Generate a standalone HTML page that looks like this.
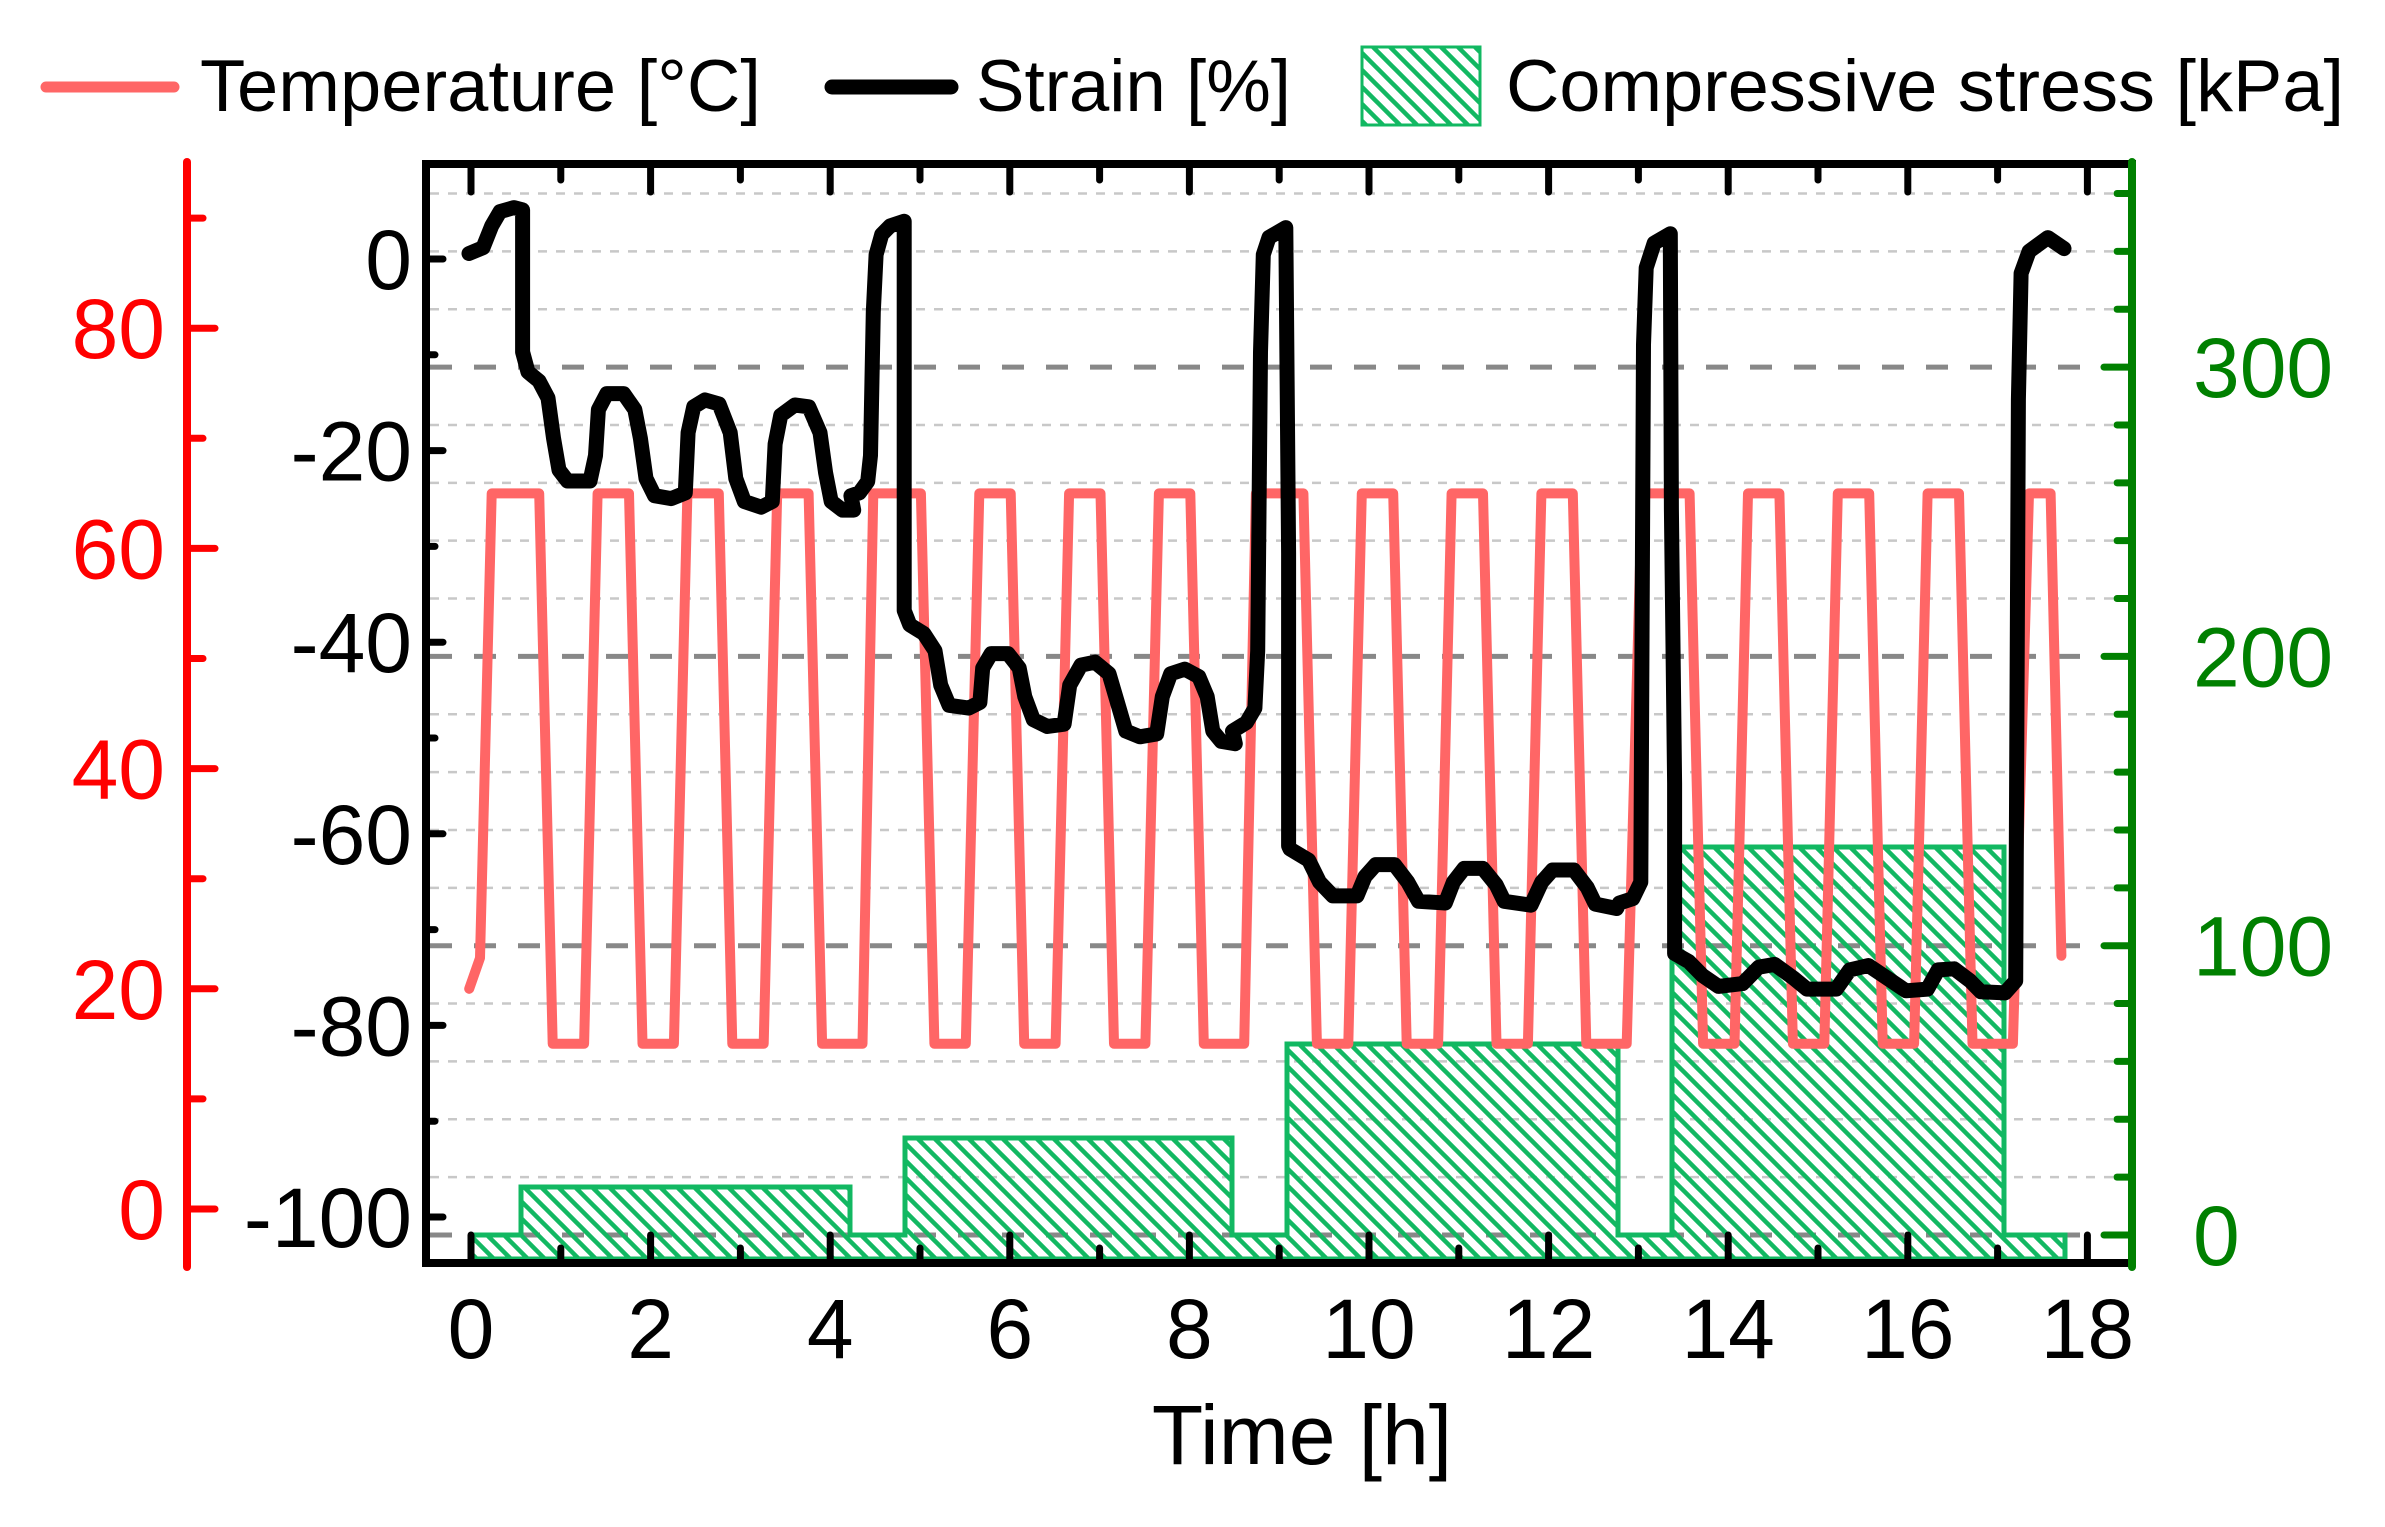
<!DOCTYPE html>
<html><head><meta charset="utf-8"><style>
html,body{margin:0;padding:0;background:#fff;}
svg{display:block;font-family:"Liberation Sans",Arial,sans-serif;}
</style></head><body>
<svg id="s" width="2385" height="1527" viewBox="0 0 2385 1527" xmlns="http://www.w3.org/2000/svg">
<defs>
<pattern id="h" patternUnits="userSpaceOnUse" width="17" height="17">
<path d="M-4,-4 L21,21 M-4,13 L4,21 M13,-4 L21,4" stroke="#12b862" stroke-width="4.5"/>
</pattern>
</defs>
<g id="grid"></g>
<path d="M471,1259 L471,1235 L521,1235 L521,1187 L850,1187 L850,1235 L905,1235 L905,1138 L1232,1138 L1232,1235 L1287,1235 L1287,1044 L1618,1044 L1618,1235 L1672,1235 L1672,847 L2004,847 L2004,1235 L2065,1235 L2065,1259 Z" fill="url(#h)" stroke="#12b862" stroke-width="5"/>
<path id="temp" fill="none" stroke="#ff6666" stroke-width="10" stroke-linejoin="round" stroke-linecap="round"/>
<path fill="none" stroke="#000" stroke-width="15" stroke-linejoin="round" stroke-linecap="round" d="M469,253.5 L483,247.7 L491.7,225.9 L500,211.6 L514,207.6 L522.6,209.9 L522.6,352 L528,372 L539,381 L548,398 L553.5,438 L559,470 L567.5,481 L590,481 L595.5,455.5 L598.4,409.6 L606.8,393.6 L623.6,393.6 L634.8,409.6 L640.4,438.3 L646,478.5 L654.5,495.7 L671.3,498.6 L685.3,492.9 L688.1,432.6 L693.7,406.8 L705,399.9 L719,403.9 L730.2,432.6 L735.8,478.5 L744.3,501.5 L761.1,507.2 L772.3,501.5 L775.1,444.1 L780.7,415.4 L794.8,405 L808.8,406.8 L820,432.6 L825.6,472.8 L831.2,501.5 L842.5,510.1 L853.7,510.1 L850.9,495.7 L859.3,492.9 L867.7,481.4 L870.5,455.5 L873.3,312 L876.1,254.6 L881.7,234.5 L890.2,225.9 L904.2,221.3 L904.2,610.5 L909.8,624.9 L923.8,633.5 L935,650.7 L940.7,685.2 L949.1,705.3 L968.7,708.1 L979.9,702.4 L982.7,668 L991.2,653.6 L1008,653.6 L1019.2,668 L1024.8,696.7 L1033.3,719.6 L1047.3,726.5 L1064.1,724.2 L1069.7,685.2 L1081,665.1 L1095,662.2 L1109,673.7 L1117.4,702.4 L1125.8,731.1 L1139.9,736.8 L1156.7,734 L1162.3,696.7 L1170.7,673.7 L1184.8,669.1 L1198.8,676.6 L1207.2,696.7 L1212.8,731.1 L1221.2,741.4 L1235.3,743.7 L1232.5,731.1 L1246.5,722.5 L1254.9,708.1 L1257.7,650.7 L1260.5,352.2 L1263.3,254.6 L1269,237.4 L1285.8,227.6 L1288.6,553.1 L1288.6,845.9 L1290,849 L1308.7,860.2 L1319.5,882.1 L1332.8,895.9 L1357,895.9 L1365,876.6 L1375.7,864.6 L1394.4,864.6 L1407.8,882.1 L1418.5,901.3 L1445.3,903 L1453.4,882.1 L1464.1,868.4 L1482.8,868.4 L1496.2,884.9 L1504.2,901.3 L1531,905.2 L1541.7,882.1 L1552.5,870 L1573.9,870 L1587.3,887.6 L1595.3,904.1 L1616.7,908.5 L1619.4,903 L1632.8,898.6 L1640.8,882.1 L1643.5,344.6 L1646.2,267.8 L1654.2,243.1 L1670.3,233.8 L1671.4,509.1 L1674.6,783.4 L1674.6,953.5 L1689,961.7 L1702.4,975.4 L1718.5,986.4 L1742.6,983.6 L1758.7,967.2 L1774.7,964.4 L1793.5,978.1 L1806.9,989.1 L1836.3,989.1 L1849.7,969.9 L1868.4,965.5 L1887.2,978.1 L1906,990.8 L1927.4,989.1 L1938.1,969.9 L1954.2,968.8 L1970.2,980.9 L1981,991.8 L2005,992.9 L2015.7,980.9 L2018.4,399.4 L2021.1,273.3 L2029.1,251.3 L2047.9,237.6 L2064,248.6"/>
<g id="axes"></g>
<g font-size="73" fill="#000">
<line x1="46" y1="87" x2="174" y2="87" stroke="#ff6666" stroke-width="11" stroke-linecap="round"/>
<text x="200" y="111" textLength="561" lengthAdjust="spacingAndGlyphs">Temperature [°C]</text>
<line x1="832" y1="87" x2="951" y2="87" stroke="#000" stroke-width="15" stroke-linecap="round"/>
<text x="976" y="111" textLength="315" lengthAdjust="spacingAndGlyphs">Strain [%]</text>
<rect x="1362" y="47" width="118" height="78" fill="url(#h)" stroke="#12b862" stroke-width="3"/>
<text x="1506" y="111" textLength="838" lengthAdjust="spacingAndGlyphs">Compressive stress [kPa]</text>
</g>
<text x="1302" y="1464" font-size="84" text-anchor="middle">Time [h]</text>
</svg>
<script>
var NS="http://www.w3.org/2000/svg";
function el(p,tag,a,txt){var e=document.createElementNS(NS,tag);for(var k in a)e.setAttribute(k,a[k]);if(txt!==undefined)e.textContent=txt;p.appendChild(e);return e;}
var grid=document.getElementById('grid'),ax=document.getElementById('axes');
function X(t){return 471+t*89.8;}
function TY(T){return 1209-11.01*T;}
function GY(k){return 1235-k*2.893;}
for(var k=20;k<=360;k+=20){var y=GY(k);if(k%100==0)continue;el(grid,'line',{x1:430,y1:y,x2:2128,y2:y,stroke:'#c8c8c8','stroke-width':2.5,'stroke-dasharray':'9 9'});}
[0,100,200,300].forEach(function(k){var y=GY(k);el(grid,'line',{x1:430,y1:y,x2:2128,y2:y,stroke:'#888','stroke-width':5,'stroke-dasharray':'22 22'});});
var pts=[[-0.02,20],[0.1,22.8]];var S=[0.23,4.48,8.74,13.04];
S.forEach(function(s,b){
 pts.push([s,65]);
 for(var j=0;j<4;j++){
  if(j>0){pts.push([s+j+0.18,65]);}
  pts.push([s+j+0.53,65]);pts.push([s+j+0.68,15]);
  pts.push([s+j+(j==3?1.13:1.03),15]);
 }
});
pts.push([17.35,65],[17.59,65],[17.71,23]);
document.getElementById('temp').setAttribute('d',pts.map(function(p,i){return (i?'L':'M')+X(p[0]).toFixed(1)+','+TY(p[1]).toFixed(1);}).join(' '));
el(ax,'path',{d:'M426,1263 L426,164 L2132,164 M426,1263 L2132,1263',stroke:'#000','stroke-width':8,fill:'none','stroke-linecap':'square'});
for(var h=0;h<=18;h++){var x=X(h),mj=h%2==0;
 el(ax,'line',{x1:x,y1:164,x2:x,y2:mj?192:180,stroke:'#000','stroke-width':7,'stroke-linecap':'round'});
 el(ax,'line',{x1:x,y1:1263,x2:x,y2:mj?1235:1248,stroke:'#000','stroke-width':7,'stroke-linecap':'round'});
 if(mj)el(ax,'text',{x:x,y:1358,'font-size':84,'text-anchor':'middle'},String(h));
}
for(var v=0;v>=-100;v-=10){var y=259+9.58*(-v);var mj=v%20==0;
 el(ax,'line',{x1:426,y1:y,x2:mj?443:435,y2:y,stroke:'#000','stroke-width':7,'stroke-linecap':'round'});
 if(mj)el(ax,'text',{x:412,y:y+30,'font-size':84,'text-anchor':'end'},String(v));
}
el(ax,'line',{x1:187,y1:162,x2:187,y2:1267,stroke:'#ff0000','stroke-width':8,'stroke-linecap':'round'});
for(var T=0;T<=90;T+=10){var y=TY(T),mj=T%20==0;
 el(ax,'line',{x1:187,y1:y,x2:mj?215:203,y2:y,stroke:'#ff0000','stroke-width':7,'stroke-linecap':'round'});
 if(mj)el(ax,'text',{x:165,y:y+30,'font-size':84,'text-anchor':'end',fill:'#ff0000'},String(T));
}
el(ax,'line',{x1:2132,y1:162,x2:2132,y2:1267,stroke:'#008000','stroke-width':8,'stroke-linecap':'round'});
for(var k=0;k<=360;k+=20){var y=GY(k),mj=k%100==0;
 el(ax,'line',{x1:2132,y1:y,x2:mj?2104:2117,y2:y,stroke:'#008000','stroke-width':7,'stroke-linecap':'round'});
 if(mj)el(ax,'text',{x:2193,y:y+30,'font-size':84,fill:'#008000'},String(k));
}
</script>
</body></html>
